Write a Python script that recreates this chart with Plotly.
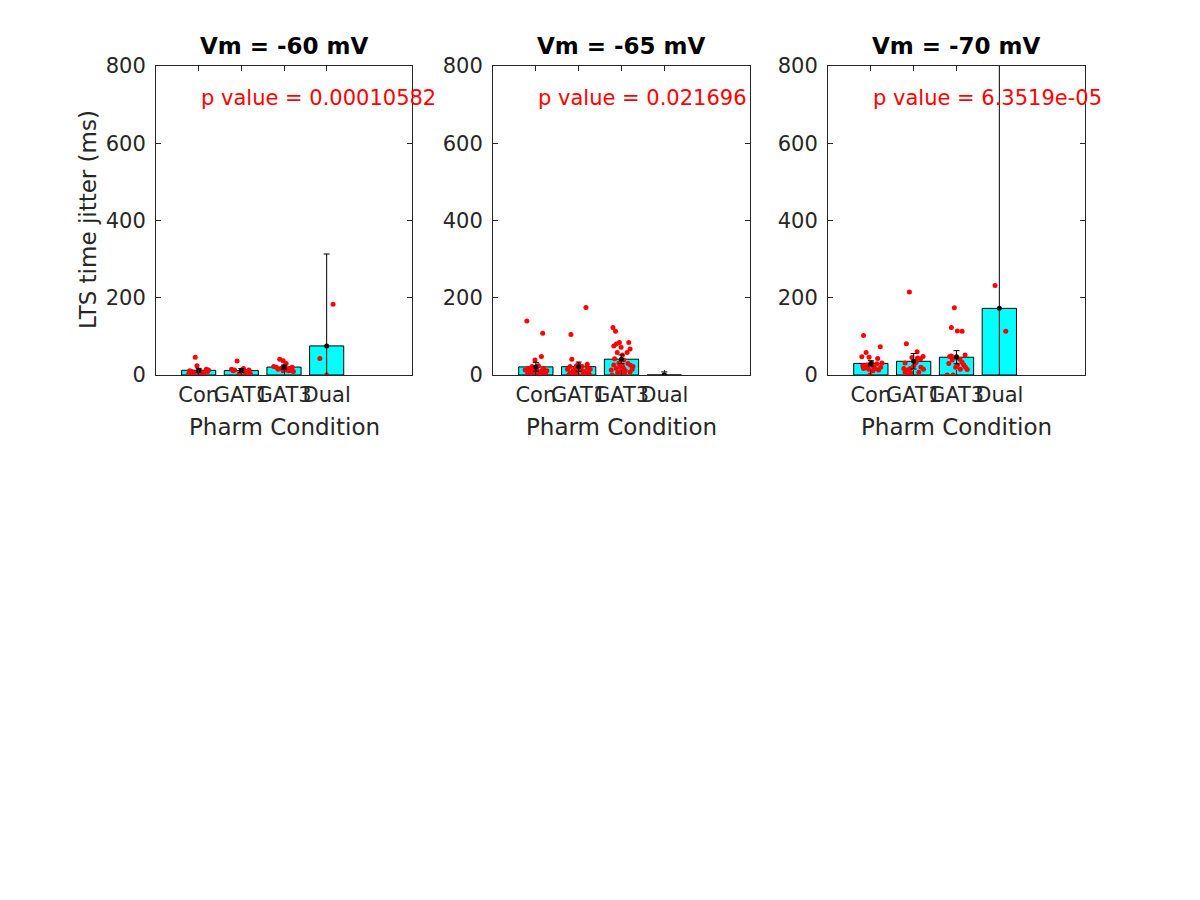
import plotly.graph_objects as go

categories = ["Con", "GAT1", "GAT3", "Dual"]
titles = ["Vm = -60 mV", "Vm = -65 mV", "Vm = -70 mV"]
p_texts = ["p value = 0.00010582", "p value = 0.021696", "p value = 6.3519e-05"]

# ---- Vm = -60 mV ----
m60_con_vals = [46, 24, 11, 9, 9, 4, 15, 13, 4, 6, 3, 6, 9]
m60_con_jit = [-0.08, -0.04, -0.21, -0.16, 0.05, 0.12, 0.18, 0.23, -0.23, -0.12, 0.08, 0.0, 0.21]
m60_gat1_vals = [36, 15, 11, 13, 4, 13, 17, 9, 13, 4, 2, 0]
m60_gat1_jit = [-0.10, -0.23, -0.19, -0.16, -0.05, 0.0, 0.05, 0.12, 0.18, 0.21, 0.08, -0.04]
m60_gat3_vals = [41, 37, 30, 22, 20, 17, 24, 13, 17, 20, 9, 11, 15, 11]
m60_gat3_jit = [-0.10, -0.02, 0.05, -0.24, -0.18, -0.06, 0.02, 0.07, 0.13, 0.19, 0.22, -0.02, -0.14, 0.12]
m60_dual_vals = [43, 183, 0]
m60_dual_jit = [-0.16, 0.15, 0.0]
m60_means = [12.2, 11.4, 20.5, 75.3]
m60_errs = [5, 5, 5, 238]

# ---- Vm = -65 mV ----
m65_con_vals = [140, 108, 48, 39, 17, 22, 13, 17, 9, 4, 6, 11, 24, 13, 11, 2, 11, 6, 16, 2, 1, 7, 4, 0]
m65_con_jit = [-0.21, 0.16, 0.13, -0.02, -0.17, -0.09, 0.02, 0.18, -0.05, 0.10, 0.22, -0.13, 0.06, -0.25,
               0.26, -0.04, 0.14, -0.15, -0.07, 0.20, 0.01, 0.09, -0.19, 0.23]
m65_gat1_vals = [175, 105, 41, 28, 28, 22, 17, 13, 9, 0, 2, 6, 9, 15, 11, 22, 2, 4, 24, 15, 17, 1, 0, 6, 1]
m65_gat1_jit = [0.17, -0.18, -0.16, 0.0, 0.20, -0.20, -0.08, 0.04, 0.12, -0.23, -0.12, 0.23, -0.04, 0.27,
                -0.13, 0.08, -0.05, 0.16, -0.05, -0.26, 0.21, 0.10, -0.02, -0.20, 0.25]
m65_gat3_vals = [123, 113, 84, 84, 80, 75, 72, 67, 58, 58, 52, 42, 39, 31, 25, 0, 17, 9, 15, 26,
                 11, 17, 30, 24, 6, 8, 3, 22, 22, 13]
m65_gat3_jit = [-0.20, -0.14, 0.17, -0.05, -0.12, -0.18, -0.01, 0.20, -0.10, 0.13, 0.02, -0.16, 0.05, -0.06,
                0.21, -0.22, 0.05, -0.02, 0.25, -0.18, 0.09, -0.12, 0.15, 0.02, -0.09, 0.20, 0.07, -0.04,
                0.27, -0.24]
m65_dual_vals = [0]
m65_dual_jit = [0.0]
m65_means = [21.0, 21.5, 40.9, 0]
m65_errs = [11, 12, 11, 8]

# ---- Vm = -70 mV ----
m70_con_vals = [102, 73, 58, 47, 46, 43, 31, 31, 17, 17, 0, 13, 26, 22, 24, 29, 15, 20, 11, 19]
m70_con_jit = [-0.17, 0.22, -0.11, -0.21, -0.04, 0.16, 0.02, 0.26, -0.17, 0.10, -0.02, 0.18, -0.09, 0.06,
               -0.19, 0.14, -0.05, 0.23, 0.05, -0.13]
m70_gat1_vals = [215, 81, 60, 48, 45, 42, 31, 31, 17, 15, 7, 0, 7, 23, 44, 13, 20, 17, 35, 5]
m70_gat1_jit = [-0.10, -0.17, 0.08, 0.22, -0.04, 0.16, 0.04, -0.20, -0.08, 0.23, -0.20, -0.12, 0.12, 0.0,
                0.09, -0.14, 0.17, -0.23, 0.06, -0.06]
m70_gat3_vals = [174, 123, 114, 113, 52, 48, 48, 41, 30, 25, 33, 14, 0, 0, 49, 26, 20, 20, 15, 39]
m70_gat3_jit = [-0.05, -0.12, 0.02, 0.13, 0.20, -0.16, 0.0, 0.08, -0.18, 0.02, 0.13, 0.25, -0.22, -0.08,
                -0.12, 0.17, -0.02, 0.21, 0.09, -0.10]
m70_dual_vals = [232, 113]
m70_dual_jit = [-0.10, 0.15]
m70_means = [30.0, 35.5, 46.0, 172.5]
m70_errs = [7, 20, 17, 756]

panels = [
    dict(vals=[m60_con_vals, m60_gat1_vals, m60_gat3_vals, m60_dual_vals],
         jit=[m60_con_jit, m60_gat1_jit, m60_gat3_jit, m60_dual_jit],
         means=m60_means, errs=m60_errs),
    dict(vals=[m65_con_vals, m65_gat1_vals, m65_gat3_vals, m65_dual_vals],
         jit=[m65_con_jit, m65_gat1_jit, m65_gat3_jit, m65_dual_jit],
         means=m65_means, errs=m65_errs),
    dict(vals=[m70_con_vals, m70_gat1_vals, m70_gat3_vals, m70_dual_vals],
         jit=[m70_con_jit, m70_gat1_jit, m70_gat3_jit, m70_dual_jit],
         means=m70_means, errs=m70_errs),
]

W, H = 1200, 900
OFF = 8  # page body margin offset
x_px = [(156, 412), (493, 750), (828, 1085)]
y_px = (66, 375)
FONT = "DejaVu Sans"
AX = "#262626"


def px_x(v):
    return (v - OFF) / W


def px_y(v):
    return 1 - (v - OFF) / H


fig = go.Figure()
layout = dict(
    width=W, height=H, showlegend=False,
    paper_bgcolor="white", plot_bgcolor="white",
    margin=dict(l=0, r=0, t=0, b=0, pad=0, autoexpand=False),
    font=dict(family=FONT, color=AX),
    annotations=[],
)

cat_pos = [1, 2, 3, 4]
for i, p in enumerate(panels):
    sfx = "" if i == 0 else str(i + 1)
    xa, ya = "x" + sfx, "y" + sfx
    fig.add_trace(go.Bar(x=cat_pos, y=p["means"], width=0.8,
                         marker=dict(color="#00FFFF", line=dict(color="black", width=1)),
                         xaxis=xa, yaxis=ya, hoverinfo="skip"))
    for k in range(4):
        xs = [cat_pos[k] + j for j in p["jit"][k]]
        fig.add_trace(go.Scatter(x=xs, y=p["vals"][k], mode="markers",
                                 marker=dict(color="red", size=5),
                                 xaxis=xa, yaxis=ya))
    fig.add_trace(go.Scatter(x=cat_pos, y=p["means"], mode="markers",
                             marker=dict(color="black", size=5),
                             error_y=dict(type="data", array=p["errs"], color="black",
                                          thickness=1, width=3),
                             xaxis=xa, yaxis=ya))
    x0, x1 = x_px[i]
    common = dict(showline=True, linecolor=AX, linewidth=1, mirror="ticks",
                  ticks="inside", ticklen=5, tickcolor=AX, showgrid=False, zeroline=False,
                  tickangle=0, tickfont=dict(family=FONT, size=21, color=AX))
    layout["xaxis" + sfx] = dict(common, domain=[px_x(x0), px_x(x1)], range=[0, 6],
                                 tickvals=cat_pos, ticktext=categories, anchor=ya,
                                 ticklabelstandoff=1)
    layout["yaxis" + sfx] = dict(common, domain=[px_y(y_px[1]), px_y(y_px[0])], range=[0, 800],
                                 tickvals=[0, 200, 400, 600, 800], anchor=xa,
                                 ticklabelstandoff=5)
    cx = px_x((x0 + x1) / 2)
    layout["annotations"].append(dict(text="<b>" + titles[i] + "</b>", x=cx, y=px_y(46),
                                      xref="paper", yref="paper", showarrow=False,
                                      xanchor="center", yanchor="middle",
                                      font=dict(family=FONT, size=23, color="black")))
    layout["annotations"].append(dict(text="Pharm Condition", x=cx, y=px_y(427),
                                      xref="paper", yref="paper", showarrow=False,
                                      xanchor="center", yanchor="middle",
                                      font=dict(family=FONT, size=23, color=AX)))
    layout["annotations"].append(dict(text=p_texts[i], x=1, y=717, xref=xa, yref=ya,
                                      xanchor="left", yanchor="middle", showarrow=False,
                                      font=dict(family=FONT, size=21, color="red")))

layout["annotations"].append(dict(text="LTS time jitter (ms)", x=px_x(88), y=px_y(220),
                                  xref="paper", yref="paper", showarrow=False, textangle=-90,
                                  xanchor="center", yanchor="middle",
                                  font=dict(family=FONT, size=23, color=AX)))

fig.update_layout(**layout)
fig.write_html("out.html")
